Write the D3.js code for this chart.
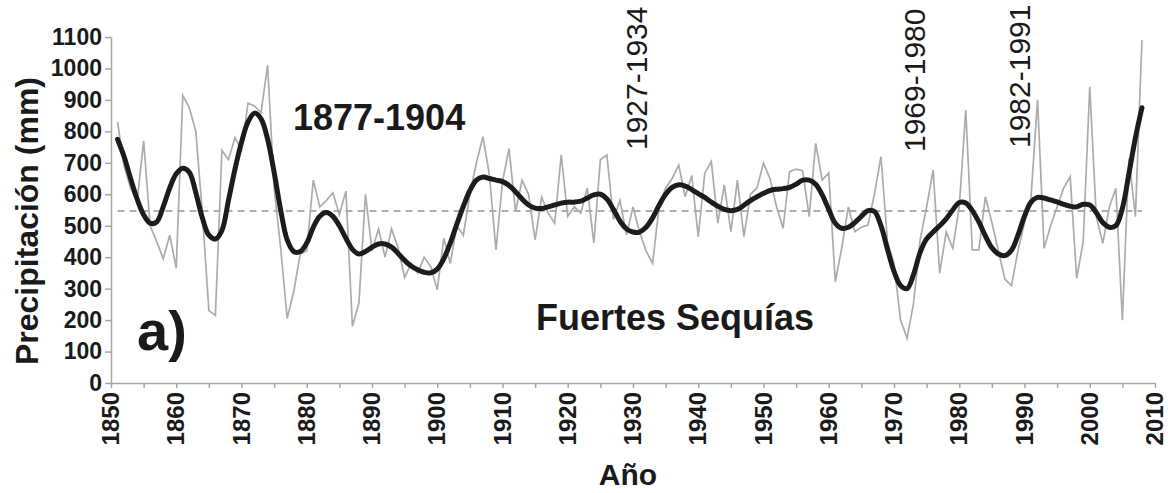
<!DOCTYPE html>
<html>
<head>
<meta charset="utf-8">
<script src="https://cdn.jsdelivr.net/npm/d3@7"></script>
<style>
    body { margin: 0; background: #fff; }
</style>
</head>
<body>
<script>

// annual rainfall, one value per year starting at firstYear
const firstYear = 1851
const annual = [
    830, 690, 620, 575, 770, 500, 450, 395, 470, 365,   // 1851-1860
    915, 875, 800, 540, 230, 215, 740, 710, 780, 740,   // 1861-1870
    890, 880, 860, 1010, 620, 430, 205, 290, 410, 420,  // 1871-1880
    645, 560, 580, 605, 535, 610, 180, 255, 600, 420,   // 1881-1890
    490, 400, 490, 430, 335, 380, 350, 400, 370, 296,   // 1891-1900
    460, 380, 500, 470, 600, 700, 783, 660, 423, 640,   // 1901-1910
    745, 545, 645, 600, 455, 590, 540, 508, 725, 530,   // 1911-1920
    560, 540, 620, 445, 710, 725, 520, 580, 470, 560,   // 1921-1930
    480, 420, 380, 560, 620, 650, 693, 592, 660, 465,   // 1931-1940
    667, 704, 508, 630, 481, 645, 465, 600, 620, 699,   // 1941-1950
    650, 560, 492, 672, 680, 675, 529, 762, 645, 668,   // 1951-1960
    322, 430, 560, 481, 495, 502, 600, 720, 450, 380,   // 1961-1970
    200, 142, 254, 455, 560, 677, 349, 480, 428, 560,   // 1971-1980
    868, 423, 423, 592, 510, 420, 330, 310, 420, 510,   // 1981-1990
    590, 900, 428, 500, 560, 620, 656, 333, 450, 942,   // 1991-2000
    529, 444, 560, 619, 200, 714, 529, 1090             // 2001-2008
]

// smoothed curve (thick black line), same years
const smooth = [
    775, 720, 650, 585, 535, 508, 512, 560, 620, 665,
    683, 670, 605, 525, 470, 458, 485, 580, 680, 765,
    830, 858, 840, 775, 670, 550, 455, 418, 418, 445,
    495, 530, 542, 530, 500, 460, 425, 410, 418, 432,
    442, 442, 432, 412, 390, 372, 360, 352, 350, 362,
    395, 445, 505, 562, 612, 645, 655, 650, 645, 640,
    628, 608, 585, 566, 556, 555, 560, 566, 572, 575,
    575, 578, 588, 598, 600, 585, 552, 515, 490, 480,
    480, 495, 525, 565, 600, 622, 630, 626, 615, 602,
    590, 575, 562, 552, 548, 552, 565, 580, 592, 603,
    612, 616, 618, 622, 632, 645, 645, 632, 598, 552,
    508, 492, 495, 510, 530, 548, 545, 500, 425, 355,
    310, 300, 345, 415, 458, 480, 500, 522, 550, 574,
    572, 548, 512, 468, 430, 410, 405, 422, 470, 530,
    575, 590, 588, 582, 576, 568, 562, 560, 568, 566,
    542, 510, 495, 500, 555, 665, 780, 875
]

const meanRain = 547
const yTicks = [0, 100, 200, 300, 400, 500, 600, 700, 800, 900, 1000, 1100]
const xTicks = [1850, 1860, 1870, 1880, 1890, 1900, 1910, 1920, 1930, 1940, 1950, 1960, 1970, 1980, 1990, 2000, 2010]
const droughtLabels = [
    {text: "1927-1934", x: 647, y: 150},
    {text: "1969-1980", x: 925, y: 152},
    {text: "1982-1991", x: 1030, y: 148}
]

window.onload = function (){

    const width = 1168
    const height = 493
    const plot = {left: 111, right: 1155, top: 37, bottom: 383}
    const font = "'Liberation Sans', Arial, sans-serif"

    const svg = d3.select('body')
        .append('svg')
        .attr('width', width)
        .attr('height', height)
        .style('font-family', font)

    const x = d3.scaleLinear().domain([1850, 2010]).range([plot.left, plot.right])
    const y = d3.scaleLinear().domain([0, 1100]).range([plot.bottom, plot.top])

    const years = d3.range(firstYear, firstYear + annual.length)

    function drawYAxis(){
        let g = svg.append('g')
            .attr('transform', getTranslateString(plot.left, 0))
            .call(d3.axisLeft(y).tickValues(yTicks).tickFormat(d3.format('d'))
                .tickSize(6).tickPadding(3).tickSizeOuter(0))

        g.select('.domain').attr('stroke', '#a6a6a6').attr('stroke-width', 1.5)
        g.selectAll('.tick line').attr('stroke', '#a6a6a6').attr('stroke-width', 1.5)
        g.selectAll('text')
            .style('font-family', font)
            .style('font-size', '23px')
            .style('font-weight', 'bold')
            .attr('fill', '#1a1a1a')
    }

    function drawXAxis(){
        let g = svg.append('g')
            .attr('transform', getTranslateString(0, plot.bottom))
            .call(d3.axisBottom(x).tickValues(d3.range(1850, 2011, 5)).tickSize(5).tickSizeOuter(0).tickFormat(''))

        g.select('.domain').attr('stroke', '#a6a6a6').attr('stroke-width', 1.5)
        g.selectAll('.tick line').attr('stroke', '#a6a6a6').attr('stroke-width', 1.5)

        g.selectAll('text.year')
            .data(xTicks)
            .join('text')
            .attr('class', 'year')
            .attr('transform', d => getTranslateString(x(d) + 8, 9) + ' rotate(-90)')
            .attr('text-anchor', 'end')
            .style('font-size', '24px')
            .style('font-weight', 'bold')
            .attr('fill', '#1a1a1a')
            .text(d => d)
    }

    function drawLines(){
        svg.append('line')
            .attr('x1', x(firstYear))
            .attr('x2', x(firstYear + annual.length - 1))
            .attr('y1', y(meanRain))
            .attr('y2', y(meanRain))
            .attr('stroke', '#a08f86')
            .attr('stroke-width', 1.5)
            .attr('stroke-dasharray', '7,5')

        let rawLine = d3.line()
            .x((d, i) => x(years[i]))
            .y(d => y(d))

        svg.append('path')
            .datum(annual)
            .attr('d', rawLine)
            .attr('fill', 'none')
            .attr('stroke', '#ababab')
            .attr('stroke-width', 1.7)

        let smoothLine = d3.line()
            .x((d, i) => x(years[i]))
            .y(d => y(d))
            .curve(d3.curveCatmullRom)

        svg.append('path')
            .datum(smooth)
            .attr('d', smoothLine)
            .attr('fill', 'none')
            .attr('stroke', '#1c1c1c')
            .attr('stroke-width', 5)
            .attr('stroke-linejoin', 'round')
            .attr('stroke-linecap', 'round')
    }

    function drawLabels(){
        svg.append('text')
            .attr('transform', getTranslateString(38, 221) + ' rotate(-90)')
            .attr('text-anchor', 'middle')
            .style('font-size', '32px')
            .style('font-weight', 'bold')
            .attr('fill', '#1a1a1a')
            .text('Precipitación (mm)')

        svg.append('text')
            .attr('x', 628)
            .attr('y', 485)
            .attr('text-anchor', 'middle')
            .style('font-size', '30px')
            .style('font-weight', 'bold')
            .attr('fill', '#1a1a1a')
            .text('Año')

        svg.append('text')
            .attr('x', 293)
            .attr('y', 130)
            .style('font-size', '36px')
            .style('font-weight', 'bold')
            .attr('fill', '#1a1a1a')
            .text('1877-1904')

        svg.append('text')
            .attr('x', 536)
            .attr('y', 330)
            .style('font-size', '36px')
            .style('font-weight', 'bold')
            .attr('fill', '#1a1a1a')
            .text('Fuertes Sequías')

        svg.append('text')
            .attr('x', 137)
            .attr('y', 350)
            .style('font-size', '56px')
            .style('font-weight', 'bold')
            .attr('fill', '#1a1a1a')
            .text('a)')

        svg.selectAll('text.period')
            .data(droughtLabels)
            .join('text')
            .attr('class', 'period')
            .attr('transform', d => getTranslateString(d.x, d.y) + ' rotate(-90)')
            .style('font-size', '30px')
            .attr('fill', '#1a1a1a')
            .text(d => d.text)
    }

    drawLines()
    drawYAxis()
    drawXAxis()
    drawLabels()
}

function getTranslateString(x, y){
    return 'translate(' + x + ',' + y + ')'
}
</script>
</body>
</html>
